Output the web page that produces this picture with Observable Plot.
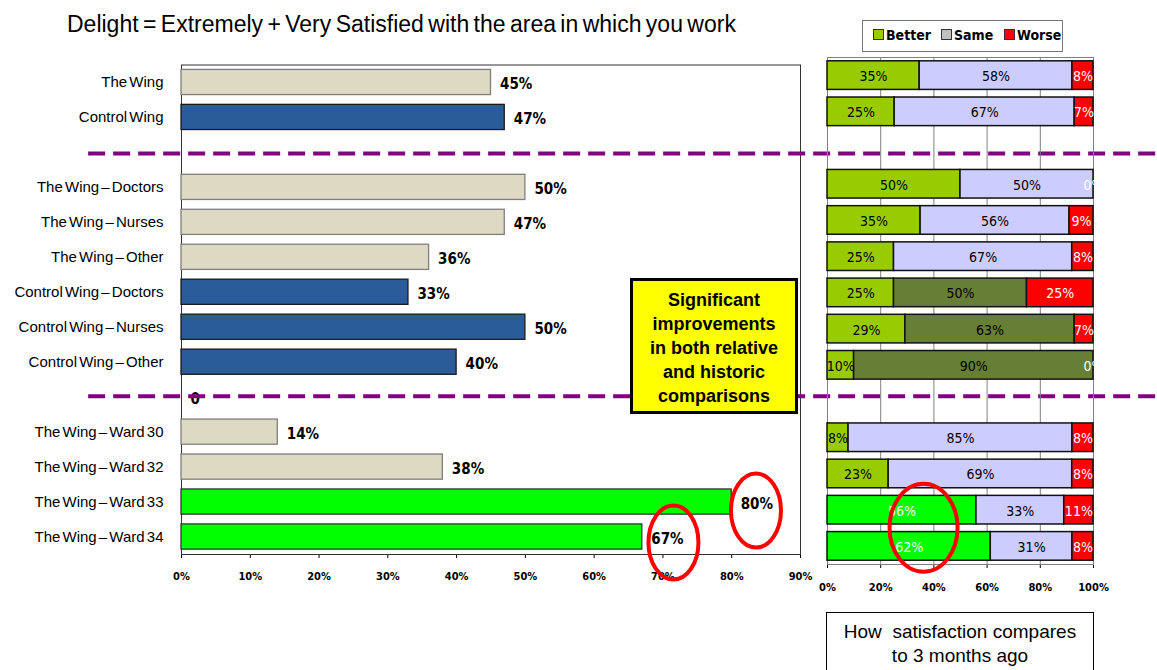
<!DOCTYPE html>
<html><head><meta charset="utf-8">
<script src="https://cdn.jsdelivr.net/npm/d3@7"></script>
<script src="https://cdn.jsdelivr.net/npm/@observablehq/plot@0.6"></script>
<style>
body{margin:0;background:#fff;}
#wrap{position:relative;width:1157px;height:670px;overflow:hidden;font-family:"Liberation Sans",Arial,sans-serif;background:#fff;}
#wrap svg{position:absolute;left:0;top:0;}
#title{position:absolute;left:67px;top:11px;font-size:23px;word-spacing:-2px;color:#000;white-space:nowrap;}
#legend{position:absolute;left:862px;top:20px;width:199px;height:30px;border:1px solid #777;background:#fff;font-family:"Liberation Sans Narrow","DejaVu Sans Condensed","Liberation Sans",sans-serif;font-weight:bold;font-size:14px;}
#legend span.item{position:absolute;top:6px;white-space:nowrap;}
#legend i{display:inline-block;width:9px;height:9px;border:1px solid #333;margin-right:2px;vertical-align:0px;}
#callout{position:absolute;left:630px;top:278px;width:162px;height:123px;border:3px solid #000;background:#FFFF00;font-weight:bold;font-size:18px;line-height:24px;text-align:center;padding-top:7px;box-sizing:content-box;}
#bottombox{position:absolute;left:826px;top:612px;width:266px;height:70px;border:1px solid #000;background:#fff;font-size:19px;line-height:24px;text-align:center;padding-top:7px;}
svg.leftc g[aria-label^="y-axis"] text{font-family:"Liberation Sans",Arial,sans-serif;font-size:15px;word-spacing:-2px;}
svg.leftc g[aria-label^="x-axis"] text, svg.rightc g[aria-label^="x-axis"] text{font-family:"Liberation Sans Narrow","DejaVu Sans Condensed","Liberation Sans",sans-serif;font-size:11px;font-weight:bold;}
</style></head><body>
<div id="wrap">
  <div id="title">Delight = Extremely + Very Satisfied with the area in which you work</div>
</div>
<script>
// ---------- data ----------
const categories = [
  "The Wing", "Control Wing", "gap1",
  "The Wing – Doctors", "The Wing – Nurses", "The Wing – Other",
  "Control Wing – Doctors", "Control Wing – Nurses", "Control Wing – Other", "gap2",
  "The Wing – Ward 30", "The Wing – Ward 32", "The Wing – Ward 33", "The Wing – Ward 34"
];
const delightValues = [45, 47, null, 50, 47, 36, 33, 50, 40, 0, 14, 38, 80, 67];
const delightLabels = ["45%", "47%", "", "50%", "47%", "36%", "33%", "50%", "40%", "0", "14%", "38%", "80%", "67%"];
const leftGroups = ["wing", "control", "", "wing", "wing", "wing", "control", "control", "control", "", "wing", "wing", "highlight", "highlight"];
const rightGroups = ["wing", "wing", "", "wing", "wing", "wing", "control", "control", "control", "", "wing", "wing", "highlight", "highlight"];

const seriesNames = ["Better", "Same", "Worse"];
const betterValues = [35, 25, null, 50, 35, 25, 25, 29, 10, null, 8, 23, 56, 62];
const sameValues   = [58, 67, null, 50, 56, 67, 50, 63, 90, null, 85, 69, 33, 31];
const worseValues  = [8, 7, null, 0, 9, 8, 25, 7, 0, null, 8, 8, 11, 8];

const leftTicks = [0, 10, 20, 30, 40, 50, 60, 70, 80, 90];
const rightTicks = [0, 0.2, 0.4, 0.6, 0.8, 1];

// ---------- styles ----------
const leftFill = {wing: "#DDD9C3", control: "#2A5C9A", highlight: "#00FF00"};
const leftStroke = {wing: "#7F7F7F", control: "#1a1a1a", highlight: "#333333"};
const rightFill = {
  Better: {wing: "#99CC00", control: "#99CC00", highlight: "#00FF00"},
  Same: {wing: "#CCCCFF", control: "#677E35", highlight: "#CCCCFF"},
  Worse: {wing: "#FF0000", control: "#FF0000", highlight: "#FF0000"}
};
const rightText = {
  Better: {wing: "#000", control: "#000", highlight: "#fff"},
  Same: {wing: "#000", control: "#000", highlight: "#000"},
  Worse: {wing: "#fff", control: "#fff", highlight: "#fff"}
};
const narrow = '"Liberation Sans Narrow","DejaVu Sans Condensed","Liberation Sans",sans-serif';
const isGap = c => c.startsWith("gap");

// ---------- tables ----------
const leftTable = categories.map((cat, i) => ({
  cat, value: delightValues[i], label: delightLabels[i],
  fill: leftFill[leftGroups[i]] || "none", stroke: leftStroke[leftGroups[i]] || "none"
})).filter(d => d.value != null);

const rightTable = [];
categories.forEach((cat, i) => {
  if (isGap(cat)) return;
  const vals = [betterValues[i], sameValues[i], worseValues[i]];
  seriesNames.forEach((s, k) => {
    rightTable.push({cat, series: s, value: vals[k], label: vals[k] + "%",
      fill: rightFill[s][rightGroups[i]], textFill: rightText[s][rightGroups[i]]});
  });
});

// ---------- annotations (ellipses, in data coordinates) ----------
function ellipses(specs) {
  return (index, scales) => {
    const g = d3.create("svg:g");
    for (const s of specs) {
      const bw = scales.y.bandwidth ? scales.y.bandwidth() : 0;
      const ys = s.cats.map(c => scales.y(c) + bw / 2);
      const cy = d3.mean(ys) + s.dy;
      g.append("ellipse").attr("cx", scales.x(s.x)).attr("cy", cy)
        .attr("rx", s.rx).attr("ry", s.ry)
        .attr("fill", "none").attr("stroke", "#FF0000").attr("stroke-width", 4);
    }
    return g.node();
  };
}

// ---------- left chart ----------
const left = Plot.plot({
  width: 1157, height: 600,
  marginLeft: 181, marginRight: 357, marginTop: 64.5, marginBottom: 46,
  style: {background: "transparent", overflow: "visible"},
  className: "leftc",
  x: {domain: [0, 90], ticks: leftTicks, tickFormat: d => d + "%", tickSize: 4, tickPadding: 14, label: null, line: true},
  y: {domain: categories, paddingInner: 0.28, paddingOuter: 0.14, round: false, tickSize: 0, tickPadding: 18,
      tickFormat: d => isGap(d) ? "" : d, label: null},
  color: {type: "identity"},
  marks: [
    Plot.frame({stroke: "#333"}),
    Plot.barX(leftTable, {x: "value", y: "cat", fill: "fill", stroke: "stroke", strokeWidth: 1.3}),
    Plot.text(leftTable, {x: "value", y: "cat", text: "label", dx: 9, dy: 2, textAnchor: "start",
      fontWeight: "bold", fontSize: 15, fontFamily: narrow, fill: "#000"}),
    Plot.ruleY(["gap1"], {y: d => d, x1: -13.5, x2: 142, stroke: "#800080", strokeWidth: 4, strokeDasharray: "17,8", dy: 1}),
    Plot.ruleY(["gap2"], {y: d => d, x1: -13.5, x2: 142, stroke: "#800080", strokeWidth: 4, strokeDasharray: "17,8", dy: -1}),
    ellipses([
      {x: 83.6, cats: ["The Wing – Ward 33"], dy: 9, rx: 25, ry: 37},
      {x: 71.6, cats: ["The Wing – Ward 34"], dy: 6, rx: 25, ry: 37}
    ])
  ]
});

// ---------- right chart ----------
const stackOpts = {offset: "normalize", x: "value", y: "cat", z: "series"};
const right = Plot.plot({
  width: 1157, height: 604,
  marginLeft: 827, marginRight: 64, marginTop: 57, marginBottom: 40,
  style: {background: "transparent", overflow: "visible"},
  className: "rightc",
  x: {domain: [0, 1], ticks: rightTicks, tickFormat: d => Math.round(d * 100) + "%", tickSize: 4, tickPadding: 15, label: null, line: true},
  y: {domain: categories, paddingInner: 0.21, paddingOuter: 0.105, round: false, axis: null},
  color: {type: "identity"},
  marks: [
    Plot.ruleX(rightTicks, {stroke: "#808080"}),
    Plot.frame({stroke: "#808080"}),
    Plot.barX(rightTable, Plot.stackX({...stackOpts, fill: "fill", stroke: "#111", strokeWidth: 1.5})),
    Plot.text(rightTable, Plot.stackX({...stackOpts, text: "label", fill: "textFill", fontSize: 14, fontFamily: narrow, dy: 1})),
    ellipses([{x: 0.363, cats: ["The Wing – Ward 33", "The Wing – Ward 34"], dy: 0, rx: 34, ry: 44}])
  ]
});

const wrap = document.getElementById("wrap");
wrap.appendChild(left);
wrap.appendChild(right);

// legend
const legend = document.createElement("div");
legend.id = "legend";
const legendColors = ["#99CC00", "#C0C0C0", "#FF0000"];
const legendX = [10, 78, 141];
seriesNames.forEach((s, k) => {
  const it = document.createElement("span");
  it.className = "item";
  it.style.left = legendX[k] + "px";
  it.innerHTML = `<i style="background:${legendColors[k]}"></i>${s}`;
  legend.appendChild(it);
});
wrap.appendChild(legend);

// callout
const callout = document.createElement("div");
callout.id = "callout";
callout.innerHTML = "Significant<br>improvements<br>in both relative<br>and historic<br>comparisons";
wrap.appendChild(callout);

// bottom caption box
const bottom = document.createElement("div");
bottom.id = "bottombox";
bottom.innerHTML = "How &nbsp;satisfaction compares<br>to 3 months ago";
wrap.appendChild(bottom);

// move title on top
wrap.appendChild(document.getElementById("title"));
</script>
</body></html>
